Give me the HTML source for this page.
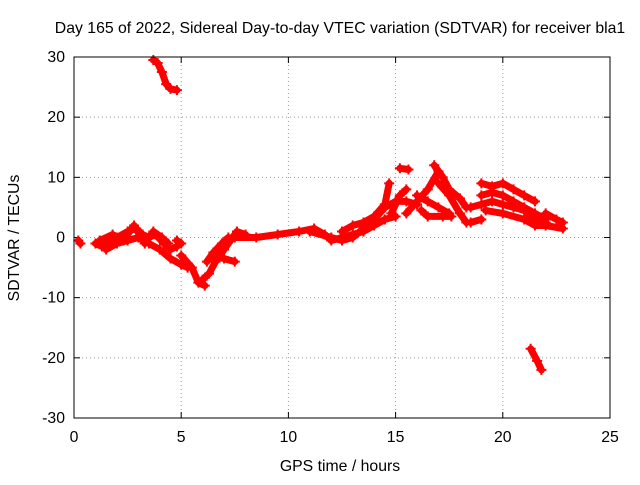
<!DOCTYPE html>
<html><head><meta charset="utf-8"><style>
body{margin:0;background:#fff}
svg text{font-family:"Liberation Sans",sans-serif;font-size:15.8px;fill:#000}
</style></head><body>
<svg id="chart" width="640" height="480" viewBox="0 0 640 480">
<rect width="640" height="480" fill="#fff"/>
<text x="340" y="33" text-anchor="middle">Day 165 of 2022, Sidereal Day-to-day VTEC variation (SDTVAR) for receiver bla1</text>
<text x="340" y="471" text-anchor="middle">GPS time / hours</text>
<text transform="translate(19,238) rotate(-90)" text-anchor="middle">SDTVAR / TECUs</text>
<g id="grid"></g><g id="ticks"></g><g id="marks"></g>
<rect x="74" y="57" width="536" height="361" fill="none" stroke="#000" stroke-width="1"/>
</svg>
<script>
const xTicks=[0,5,10,15,20,25];
const yTicks=[-30,-20,-10,0,10,20,30];
const track1=[[3.7,29.5],[3.9,29],[4.1,27.5],[4.3,25.5],[4.5,24.7],[4.8,24.5]];
const track2=[[0.2,-0.5],[0.3,-1]];
const track3=[[1,-1],[1.3,-1.5],[1.6,-1],[2,0],[2.5,1],[2.9,1.5],[3.2,0.5],[3.5,0],[3.8,0.5],[4.2,-1],[4.5,-2],[4.8,-1.5]];
const track4=[[1.5,-2],[2,-1],[2.5,-0.5],[3,0],[3.5,-1],[4,-2],[4.5,-3.5],[5,-4.5],[5.3,-5]];
const track4b=[[1.2,-0.5],[1.8,0.5],[2.3,-0.5],[2.8,2],[3.3,-1],[3.7,1],[4.1,0],[4.4,-1]];
const track5=[[4.8,-0.5],[5,-1]];
const track6=[[5,-3],[5.5,-5],[5.8,-7.5],[6.1,-8]];
const track7=[[6,-7],[6.3,-6],[6.6,-4],[7,-2],[7.3,-0.5],[7.6,1],[8,0.5]];
const track8=[[6.2,-4],[6.5,-2.5],[6.9,-1],[7.2,0]];
const track9=[[6.5,-3],[7,-3.5],[7.5,-4]];
const track10=[[7.5,0],[8.5,0],[9.5,0.5],[10.5,1],[11.2,1.5],[11.7,0.5],[12,-0.5],[12.5,0],[13,0.5],[13.5,1],[14,2],[14.5,3],[15,3.5]];
const track11=[[11,1],[12,0],[12.5,-0.5],[13,0],[13.5,1.5],[14,3],[14.5,5],[15,6],[15.5,6],[16,5.5]];
const track12=[[12.5,1],[13,2],[13.5,2.5],[14,3.5],[14.5,5.5],[14.7,9]];
const track13=[[15.2,11.5],[15.6,11.3]];
const track14=[[14.8,4],[15.2,7],[15.5,8]];
const track15=[[15.5,4],[16,6],[16.5,8],[17,11]];
const track16=[[16,7],[16.5,6],[17,5],[17.5,4]];
const track17=[[16.2,4.5],[16.5,3.5],[17.2,3.5],[17.6,3.5]];
const track18=[[16.8,12],[17.2,10],[17.5,8],[18,6.5],[18.3,5]];
const track19=[[17,9],[17.5,7],[18,4],[18.3,2.5]];
const track20=[[18.5,2.5],[19,3]];
const track21=[[18.5,5],[19,5.5],[19.5,6],[20,5.5],[20.5,5],[21,4.5],[21.5,3],[22,2.5]];
const track22=[[19,7],[19.5,7.5],[20,7],[20.5,6],[21,5],[21.5,4],[22,3]];
const track23=[[19,9],[19.5,8.5],[20,9],[20.5,8],[21,7],[21.5,6]];
const track24=[[19.2,4.5],[20,4],[21,3],[21.5,2],[22,2],[22.8,1.5]];
const track25=[[22,4],[22.5,3],[22.8,2.5]];
const track26=[[21.3,-18.5],[21.6,-20.5],[21.8,-22]];
const tracks=[track1,track2,track3,track4,track4b,track5,track6,track7,track8,track9,track10,track11,track12,track13,track14,track15,track16,track17,track18,track19,track20,track21,track22,track23,track24,track25,track26];
const NS='http://www.w3.org/2000/svg';
const X0=74,X1=610,Y0=418,Y1=57;
function sx(v){return X0+(v-0)/(25-0)*(X1-X0);}
function sy(v){return Y0-(v+30)/60*(Y0-Y1);}
function mk(tag,attrs,parent){const e=document.createElementNS(NS,tag);for(const k in attrs)e.setAttribute(k,attrs[k]);parent.appendChild(e);return e;}
const grid=document.getElementById('grid'),ticks=document.getElementById('ticks'),marks=document.getElementById('marks');
xTicks.forEach(t=>{
  const x=sx(t);
  if(t>0&&t<25){const g=mk('line',{x1:x,x2:x,y1:Y1,y2:Y0,stroke:'#999','stroke-dasharray':'1,3'},grid);
  
  }
  mk('line',{x1:x,x2:x,y1:Y0,y2:Y0-6,stroke:'#000'},ticks);
  mk('line',{x1:x,x2:x,y1:Y1,y2:Y1+6,stroke:'#000'},ticks);
  const l=mk('text',{x:x,y:Y0+24,'text-anchor':'middle'},ticks);l.textContent=t;
  
  
});
yTicks.forEach(t=>{
  const y=sy(t);
  if(t>-30&&t<30){const g=mk('line',{x1:X0,x2:X1,y1:y,y2:y,stroke:'#999','stroke-dasharray':'1,3'},grid);
  
  }
  mk('line',{x1:X0,x2:X0+6,y1:y,y2:y,stroke:'#000'},ticks);
  mk('line',{x1:X1,x2:X1-6,y1:y,y2:y,stroke:'#000'},ticks);
  const l=mk('text',{x:X0-9,y:y+5,'text-anchor':'end'},ticks);l.textContent=t;
  
  
});
tracks.forEach(tr=>{
  const d=tr.map((p,i)=>(i?'L':'M')+sx(p[0]).toFixed(1)+','+sy(p[1]).toFixed(1)).join('');
  const path=mk('path',{d:d,fill:'none',stroke:'#f00','stroke-width':7,'stroke-linejoin':'round','stroke-linecap':'round'},marks);
  
  
  tr.forEach(p=>{
    const x=sx(p[0]),y=sy(p[1]);
    const m=mk('path',{d:`M${x-5},${y}H${x+5}M${x},${y-5}V${y+5}`,stroke:'#f00','stroke-width':2},marks);
    
    
  });
});
</script>
</body></html>
